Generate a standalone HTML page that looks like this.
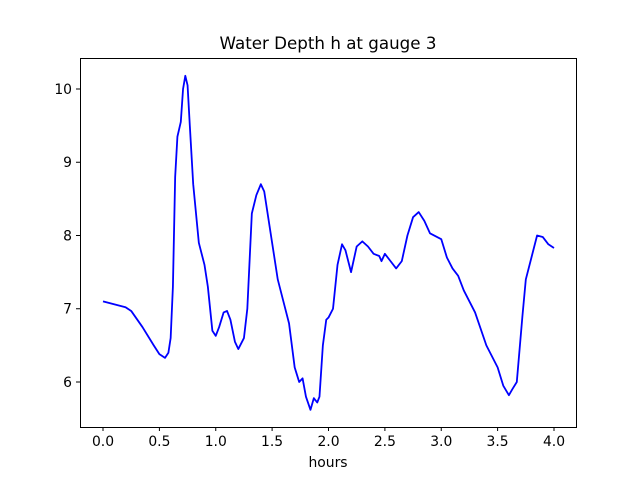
<!DOCTYPE html>
<html><head><meta charset="utf-8"><style>body{margin:0;background:#fff}svg text{font-family:"DejaVu Sans",sans-serif;font-size:13.9px;fill:#000}</style></head>
<body>
<svg width="640" height="480" viewBox="0 0 640 480" xmlns="http://www.w3.org/2000/svg">
<rect width="640" height="480" fill="#fff"/>
<g transform="translate(103,821.5) scale(112.75,-73.25)">
<polyline fill="none" stroke="#0000ff" stroke-width="1.8" vector-effect="non-scaling-stroke" stroke-linejoin="round"
points="0,7.1 0.2,7.02 0.25,6.97 0.35,6.75 0.45,6.5 0.5,6.38 0.55,6.33 0.58,6.4 0.6,6.6 0.62,7.3 0.64,8.8 0.66,9.35 0.69,9.55 0.71,10.0 0.73,10.18 0.75,10.05 0.77,9.5 0.8,8.7 0.85,7.9 0.9,7.6 0.93,7.3 0.97,6.7 1.0,6.63 1.03,6.75 1.07,6.95 1.1,6.97 1.13,6.85 1.17,6.55 1.2,6.45 1.25,6.6 1.28,7.0 1.32,8.3 1.36,8.55 1.4,8.7 1.43,8.6 1.5,7.9 1.55,7.4 1.6,7.1 1.65,6.8 1.7,6.2 1.72,6.1 1.74,6.0 1.77,6.05 1.8,5.8 1.84,5.62 1.87,5.78 1.9,5.72 1.92,5.8 1.95,6.5 1.98,6.85 2.0,6.88 2.04,7.0 2.08,7.6 2.12,7.88 2.15,7.8 2.2,7.5 2.25,7.85 2.3,7.92 2.35,7.85 2.4,7.75 2.45,7.72 2.47,7.65 2.5,7.75 2.55,7.65 2.6,7.55 2.65,7.65 2.7,8.0 2.75,8.25 2.8,8.32 2.85,8.2 2.9,8.03 3.0,7.95 3.05,7.7 3.1,7.55 3.15,7.45 3.2,7.25 3.3,6.95 3.4,6.5 3.5,6.2 3.55,5.95 3.6,5.82 3.63,5.9 3.67,6.0 3.72,6.9 3.75,7.4 3.8,7.7 3.85,8.0 3.9,7.98 3.95,7.88 4.0,7.83"/>
</g>
<rect x="80.5" y="58.5" width="496" height="369" fill="none" stroke="#000" stroke-width="1"/>
<g stroke="#000" stroke-width="1">
<line x1="103" y1="427" x2="103" y2="431"/><line x1="159.4" y1="427" x2="159.4" y2="431"/><line x1="215.75" y1="427" x2="215.75" y2="431"/><line x1="272.1" y1="427" x2="272.1" y2="431"/><line x1="328.5" y1="427" x2="328.5" y2="431"/><line x1="384.9" y1="427" x2="384.9" y2="431"/><line x1="441.25" y1="427" x2="441.25" y2="431"/><line x1="497.6" y1="427" x2="497.6" y2="431"/><line x1="554" y1="427" x2="554" y2="431"/>
<line x1="76" y1="382" x2="80" y2="382"/><line x1="76" y1="308.75" x2="80" y2="308.75"/><line x1="76" y1="235.5" x2="80" y2="235.5"/><line x1="76" y1="162.25" x2="80" y2="162.25"/><line x1="76" y1="89" x2="80" y2="89"/>
</g>
<g text-anchor="middle">
<text x="103" y="446">0.0</text><text x="159.4" y="446">0.5</text><text x="215.75" y="446">1.0</text><text x="272.1" y="446">1.5</text><text x="328.5" y="446">2.0</text><text x="384.9" y="446">2.5</text><text x="441.25" y="446">3.0</text><text x="497.6" y="446">3.5</text><text x="554" y="446">4.0</text>
<text x="328" y="467">hours</text>
<text x="328" y="49" style="font-size:16.7px">Water Depth h at gauge 3</text>
</g>
<g text-anchor="end">
<text x="72" y="387">6</text><text x="72" y="313.5">7</text><text x="72" y="240.5">8</text><text x="72" y="167">9</text><text x="72" y="94">10</text>
</g>
</svg>
</body></html>
